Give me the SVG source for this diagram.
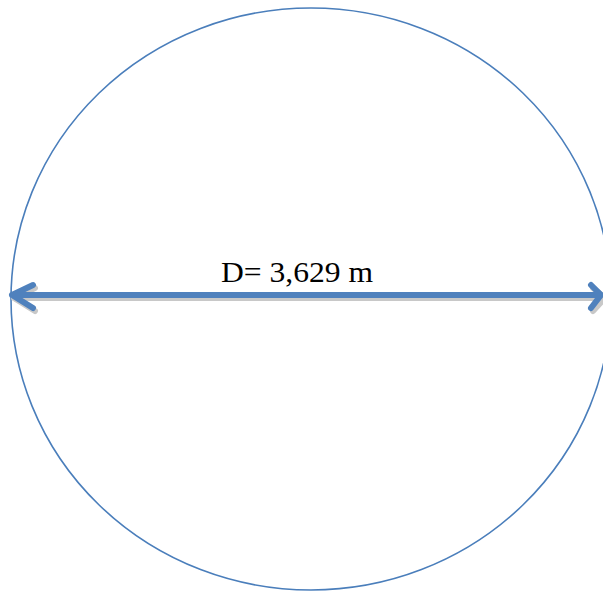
<svg xmlns="http://www.w3.org/2000/svg" width="603" height="591" viewBox="0 0 603 591">
<style>
.circ{fill:none;stroke:#4A7EBB;stroke-width:1.6}
.arr{fill:none;stroke:#4F81BD;stroke-width:6;stroke-linecap:round;stroke-linejoin:round}
.shd{fill:none;stroke:#C8C8C8;stroke-width:6;stroke-linecap:round;stroke-linejoin:round}
.lbl{font-family:"Liberation Serif","Times New Roman",serif;font-size:30px;fill:#000}
</style>
<rect width="603" height="591" fill="#fff"/>
<g id="circle">
<ellipse class="circ" cx="311" cy="299" rx="300" ry="291"/>
</g>
<g id="connectors">
<path class="shd" d="M14,298 H603 M35,288 L14,298 L35,311 M593,288 L605,298 L593,311"/>
<path class="arr" d="M12,295 H601 M33,285 L12,295 L33,308 M591,285 L601,295 L591,308"/>
</g>
<g id="label">
<text class="lbl" x="221" y="282" textLength="152" lengthAdjust="spacingAndGlyphs">D= 3,629 m</text>
</g>
</svg>
